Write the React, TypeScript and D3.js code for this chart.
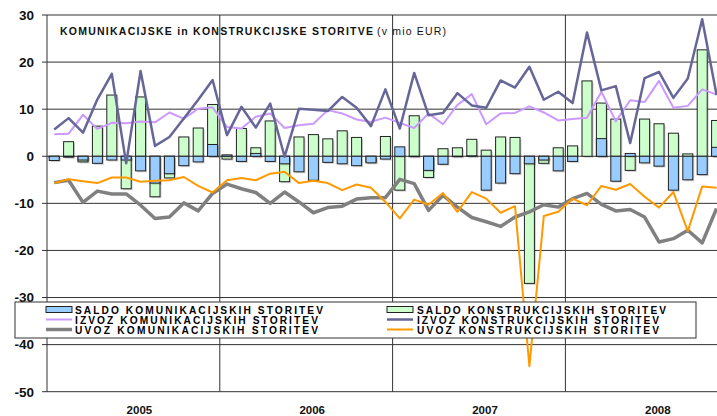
import React from 'react'
import * as d3 from 'd3'

const years = ['2005', '2006', '2007', '2008']

// monthly values, Jan 2005 - Nov 2008 (mio EUR)
const saldoKom = [
  -0.9, -0.2, -0.8, -1.5, -0.8, -0.8, -3.1, -5.7, -3.7, -2.0, -1.2, 2.5,
  0.3, -1.1, 0.6, -1.1, -1.6, -3.3, -5.1, -1.3, -1.6, -2.0, -1.4, -0.6,
  2.0, -0.1, -3.0, -1.7, -0.1, 0.1, -7.2, -5.7, -3.7, -1.6, -0.8, -3.1,
  -1.1, 0, 3.75, -5.3, 0.6, -1.4, -2.1, -7.2, -5.0, -3.9, 1.9
]
const saldoKonstr = [
  -0.3, 3.1, -1.2, 6.4, 13.0, -6.9, 12.6, -8.6, -4.6, 4.1, 6.0, 11.0,
  -0.6, 5.9, 1.8, 7.5, -5.4, 4.1, 4.6, 3.7, 5.4, 4.0, -1.2, 4.2,
  -7.2, 8.6, -4.5, 1.6, 1.8, 3.6, 1.3, 4.1, 4.0, -27.0, -1.5, 1.8,
  2.2, 16.0, 11.3, 7.9, -3.0, 7.9, 6.9, 4.9, 0.5, 22.6, 7.6
]
const izvozKom = [
  4.7, 4.8, 8.8, 5.8, 7.1, 7.0, 7.4, 7.2, 9.3, 8.0, 10.1, 10.4,
  6.2, 5.9, 8.4, 9.1, 6.0, 6.6, 6.9, 9.8, 9.1, 7.8, 7.3, 8.2,
  7.1, 6.0, 9.1, 6.8, 10.9, 13.2, 6.8, 9.1, 9.2, 10.6, 9.3, 7.6,
  7.9, 8.2, 13.7, 7.4, 11.9, 11.5, 16.0, 10.3, 10.7, 14.2, 13.1
]
const izvozKonstr = [
  5.7, 8.1, 5.0, 12.1, 17.5, -1.5, 18.1, 2.2, 4.1, 8.0, 12.0, 16.2,
  4.5, 10.5, 6.1, 11.2, -0.1, 10.1, 9.9, 9.6, 12.6, 10.3, 6.4, 14.2,
  5.9, 17.7, 8.7, 9.2, 13.4, 10.8, 10.3, 16.1, 14.6, 19.0, 12.0, 13.7,
  11.3, 26.3, 14.0, 14.9, 2.8, 16.6, 17.9, 12.4, 16.5, 29.1, 13.0
]
const uvozKom = [
  -5.6, -5.1, -9.8, -7.4, -8.0, -8.0, -10.4, -13.2, -12.9, -9.9, -11.6, -7.9,
  -5.9, -6.9, -7.7, -10.0, -7.6, -9.7, -12.0, -10.9, -10.6, -9.1, -8.8, -8.8,
  -4.9, -5.8, -11.5, -8.3, -10.8, -13.0, -13.9, -14.9, -12.9, -11.8, -10.3, -10.8,
  -9.0, -7.9, -10.2, -11.6, -11.3, -12.9, -18.2, -17.5, -15.7, -18.4, -11.1
]
const uvozKonstr = [
  -5.7, -4.9, -5.3, -5.7, -4.5, -4.5, -5.4, -5.2, -5.1, -4.4, -6.3, -7.7,
  -5.1, -4.6, -5.1, -3.7, -3.3, -5.7, -5.2, -5.7, -7.2, -6.0, -6.7, -9.7,
  -13.2, -9.2, -10.3, -7.8, -11.8, -7.6, -9.0, -12.0, -10.6, -44.6, -12.7, -11.8,
  -9.0, -10.4, -6.3, -7.1, -5.9, -8.6, -10.9, -7.6, -15.9, -6.4, -6.7
]
const yTicks = [30, 20, 10, 0, -10, -20, -30, -40, -50]

const W = 717
const H = 416
const left = 47
const monthW = 14.4
const font = 'Arial, "Liberation Sans", sans-serif'

const y = d3.scaleLinear().domain([-50, 30]).range([391.7, 15])
const x = d3
  .scaleLinear()
  .domain([0, years.length * 12])
  .range([left, left + monthW * years.length * 12])
const cx = (i: number) => x(i + 0.5)
const bw = 10

const line = (vals: number[]) =>
  d3
    .line<number>()
    .x((d, i) => cx(i))
    .y(d => y(d))(vals) as string

const series = [
  { name: 'IZVOZ KOMUNIKACIJSKIH STORITEV', vals: izvozKom, color: '#CC99FF', w: 2 },
  { name: 'IZVOZ KONSTRUKCIJSKIH STORITEV', vals: izvozKonstr, color: '#666699', w: 2.5 },
  { name: 'UVOZ KOMUNIKACIJSKIH STORITEV', vals: uvozKom, color: '#808080', w: 3.5 },
  { name: 'UVOZ KONSTRUKCIJSKIH STORITEV', vals: uvozKonstr, color: '#FF9900', w: 2 }
]

function Bars({ vals, fill }: { vals: number[]; fill: string }) {
  return (
    <g>
      {vals.map((v, i) => {
        const y0 = Math.min(y(0), y(v))
        const h = Math.abs(y(v) - y(0))
        return (
          <g key={i}>
            <rect x={cx(i) - bw / 2 + 1.5} y={y0 + 1.5} width={bw} height={h} fill="#000" opacity={0.18} />
            <rect x={cx(i) - bw / 2} y={y0} width={bw} height={h} fill={fill} stroke="#222" strokeWidth={1} />
          </g>
        )
      })}
    </g>
  )
}

export default function App() {
  const legendRows = [313.5, 323.5, 333.5]
  return (
    <svg
      width={W}
      height={H}
      style={{ position: 'absolute', left: 0, top: 0, background: '#fff' }}
      fontFamily={font}
    >
      <rect width={W} height={H} fill="#fff" />
      {/* grid */}
      {yTicks.map(t => (
        <g key={t}>
          <line x1={left - 5} x2={W} y1={y(t)} y2={y(t)} stroke="#333" strokeWidth={1} />
          <text x={34} y={y(t)} dy="0.36em" textAnchor="end" fontSize={13.5} fontWeight="bold" fill="#111">
            {t}
          </text>
        </g>
      ))}
      {years.map((yr, k) => (
        <g key={yr}>
          {k > 0 && (
            <line x1={x(k * 12)} x2={x(k * 12)} y1={y(30)} y2={y(-50)} stroke="#333" strokeWidth={1} />
          )}
          <text
            x={x(k * 12 + 6) + 6}
            y={414}
            textAnchor="middle"
            fontSize={11.5}
            fontWeight="bold"
            fill="#111"
          >
            {yr}
          </text>
        </g>
      ))}
      <line x1={left} x2={left} y1={y(30)} y2={y(-50)} stroke="#333" strokeWidth={1} />

      <Bars vals={saldoKonstr} fill="#CCFFCC" />
      <Bars vals={saldoKom} fill="#99CCFF" />

      {series.map(s => (
        <path
          key={s.name}
          d={line(s.vals)}
          fill="none"
          stroke={s.color}
          strokeWidth={s.w}
          strokeLinejoin="round"
        />
      ))}

      <text x={60} y={35} fontSize={10.5} fill="#111">
        <tspan fontWeight="bold" textLength={313} lengthAdjust="spacing">
          KOMUNIKACIJSKE in KONSTRUKCIJSKE STORITVE
        </tspan>
        <tspan x={377} textLength={69} lengthAdjust="spacing">(v mio EUR)</tspan>
      </text>

      {/* legend */}
      <rect x={15} y={302} width={681} height={36} fill="#fff" stroke="#333" strokeWidth={1} />
      <rect x={46} y={306.5} width={26} height={6} fill="#99CCFF" stroke="#222" />
      <rect x={387} y={306.5} width={26} height={6} fill="#CCFFCC" stroke="#222" />
      <text x={75} y={legendRows[0]} fontSize={10.2} fontWeight="bold" textLength={248} lengthAdjust="spacing">
        SALDO KOMUNIKACIJSKIH STORITEV
      </text>
      <text x={417} y={legendRows[0]} fontSize={10.2} fontWeight="bold" textLength={249} lengthAdjust="spacing">
        SALDO KONSTRUKCIJSKIH STORITEV
      </text>
      {series.map((s, i) => {
        const col = i % 2
        const row = 1 + Math.floor(i / 2)
        const sx = col === 0 ? 46 : 387
        const tx = col === 0 ? 75 : 417
        return (
          <g key={s.name}>
            <line
              x1={sx}
              x2={sx + 26}
              y1={legendRows[row] - 4}
              y2={legendRows[row] - 4}
              stroke={s.color}
              strokeWidth={s.w}
            />
            <text
              x={tx}
              y={legendRows[row]}
              fontSize={10.2}
              fontWeight="bold"
              textLength={col === 0 ? 243 : 242}
              lengthAdjust="spacing"
            >
              {s.name}
            </text>
          </g>
        )
      })}
    </svg>
  )
}
